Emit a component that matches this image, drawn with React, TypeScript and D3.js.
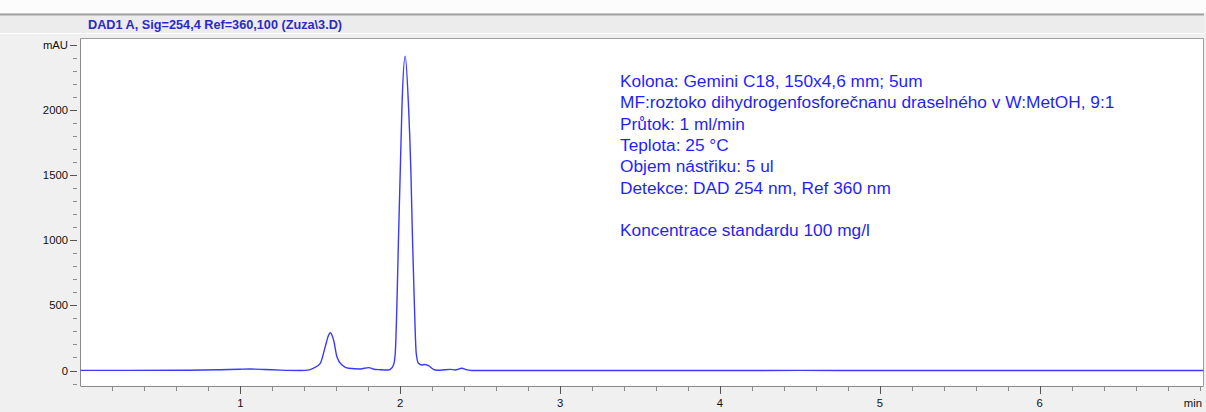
import React from "react";
import * as d3 from "d3";

const title = "DAD1 A, Sig=254,4 Ref=360,100 (Zuza\\3.D)";
const annotation = [
  "Kolona: Gemini C18, 150x4,6 mm; 5um",
  "MF:roztoko dihydrogenfosforečnanu draselného v W:MetOH, 9:1",
  "Průtok: 1 ml/min",
  "Teplota: 25 °C",
  "Objem nástřiku: 5 ul",
  "Detekce: DAD 254 nm, Ref 360 nm",
  "",
  "Koncentrace standardu 100 mg/l",
];

const times = [
  0, 0.3, 0.625, 0.875, 1.0, 1.0625, 1.15, 1.25, 1.375, 1.406, 1.456, 1.5,
  1.531, 1.55, 1.5625, 1.583, 1.604, 1.636, 1.677, 1.75, 1.802, 1.844, 1.875,
  1.927, 1.9375, 1.958, 1.969, 1.979, 1.989, 2.0, 2.011, 2.031, 2.052, 2.067,
  2.077, 2.089, 2.1, 2.114, 2.136, 2.15, 2.177, 2.208, 2.219, 2.25, 2.3125,
  2.344, 2.385, 2.417, 2.448, 2.5, 3.0, 3.5, 4.0, 4.5, 5.0, 5.5, 6.0, 6.5, 7.025,
];
const signal = [
  1, 1, 2, 6, 10, 11, 8, 3, 0, 1, 17, 55,
  183, 265, 290, 235, 106, 42, 17, 12, 22, 8, 6,
  4, 8, 42, 135, 491, 1004, 1519, 2029, 2414, 2029, 1519,
  1004, 491, 135, 55, 42, 46, 37, 9, 4, 2, 9,
  4, 17, 6, 0, 0, 0, 0, 0, 1, 0, 0, 0, 0, 0,
];

const yMajor = [0, 500, 1000, 1500, 2000];
const yMinor = d3.range(-100, 2501, 100);
const xMajor = [1, 2, 3, 4, 5, 6];
const xMinor = d3.range(0.2, 7.01, 0.2);

export default function App() {
  const W = 1206, H = 412;
  const left = 80.5, right = 1203.5, top = 38.5, bottom = 386;
  const x = d3.scaleLinear().domain([0, 7.025]).range([left, right]);
  const y = d3.scaleLinear().domain([-119, 2550]).range([bottom, top]);
  const pts = times.map((t, i) => [t, signal[i]] as [number, number]);
  const line = d3
    .line<[number, number]>()
    .x((d) => x(d[0]))
    .y((d) => y(d[1]))
    .curve(d3.curveMonotoneX);
  const font = "'Liberation Sans', Arial, sans-serif";
  return (
    <svg
      width={W}
      height={H}
      style={{ position: "absolute", left: 0, top: 0 }}
      fontFamily={font}
    >
      <rect x={0} y={0} width={W} height={H} fill="#f0f0f0" />
      <rect x={0} y={0} width={W} height={13} fill="#fcfcfc" />
      <line x1={0} x2={1204} y1={14.5} y2={14.5} stroke="#a0a0a0" strokeWidth={2} />
      <rect x={0} y={16} width={1204} height={17} fill="#ececec" />
      <line x1={0} x2={1204} y1={33.5} y2={33.5} stroke="#ffffff" />
      <text x={88} y={28.5} fontSize={12.7} fontWeight="bold" fill="#2a2ac8">
        {title}
      </text>
      <rect x={left} y={top} width={right - left} height={bottom - top} fill="#ffffff" />
      <line x1={left} x2={right} y1={top} y2={top} stroke="#a0a0a0" />
      <line x1={right} x2={right} y1={top} y2={bottom} stroke="#a0a0a0" />
      <line x1={left} x2={left} y1={top} y2={bottom} stroke="#8a8a8a" />
      <line x1={left} x2={right} y1={bottom + 0.5} y2={bottom + 0.5} stroke="#8a8a8a" />
      {yMinor.map((v) => (
        <line key={"ym" + v} x1={73} x2={77} y1={Math.round(y(v)) + 0.5} y2={Math.round(y(v)) + 0.5} stroke="#8a8a8a" />
      ))}
      {yMajor.map((v) => (
        <g key={"yM" + v}>
          <line x1={70} x2={77} y1={Math.round(y(v)) + 0.5} y2={Math.round(y(v)) + 0.5} stroke="#555" />
          <text x={68} y={y(v) + 4} fontSize={11.3} textAnchor="end" fill="#111">
            {v}
          </text>
        </g>
      ))}
      <line x1={70} x2={77} y1={Math.round(y(2500)) + 0.5} y2={Math.round(y(2500)) + 0.5} stroke="#555" />
      <text x={68} y={y(2500) + 4} fontSize={11.3} textAnchor="end" fill="#111">
        mAU
      </text>
      {xMinor.map((v) => (
        <line key={"xm" + v} x1={Math.round(x(v)) + 0.5} x2={Math.round(x(v)) + 0.5} y1={bottom} y2={bottom + 5} stroke="#8a8a8a" />
      ))}
      {xMajor.map((v) => (
        <g key={"xM" + v}>
          <line x1={Math.round(x(v)) + 0.5} x2={Math.round(x(v)) + 0.5} y1={bottom} y2={bottom + 8} stroke="#555" />
          <text x={x(v)} y={407} fontSize={11.3} textAnchor="middle" fill="#111">
            {v}
          </text>
        </g>
      ))}
      <text x={1202} y={407} fontSize={11.3} textAnchor="end" fill="#111">
        min
      </text>
      <path d={line(pts) ?? ""} fill="none" stroke="#3a3aff" strokeWidth={1.4} />
      {annotation.map((s, i) => (
        <text key={"a" + i} x={620} y={87 + i * 21.3} fontSize={17.3} fill="#1f1fff">
          {s}
        </text>
      ))}
    </svg>
  );
}
